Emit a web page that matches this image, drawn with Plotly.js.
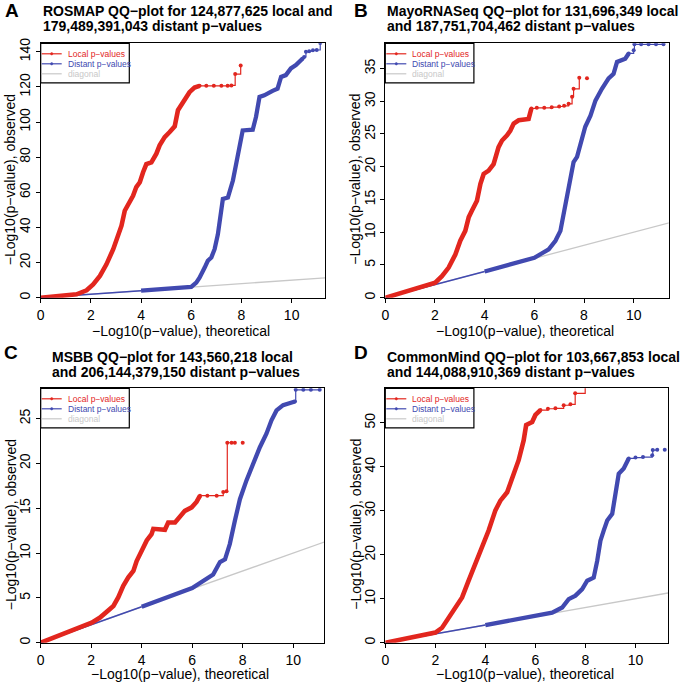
<!DOCTYPE html>
<html><head><meta charset="utf-8">
<script src="https://cdn.plot.ly/plotly-3.0.1.min.js"></script>
<style>html,body{margin:0;padding:0;background:#fff}#chart{width:685px;height:683px}</style>
</head><body><div id="chart"></div>
<script>
// ---------- DATA ----------
const diagX = [0, 12];
const diagY = [0, 12];

// A: ROSMAP
const rosmapLocalX = [0, 0.5, 1.0, 1.43, 1.83, 2.09, 2.36, 2.62, 2.89, 3.09, 3.22, 3.35, 3.48, 3.68, 3.81, 3.95, 4.08, 4.21, 4.41, 4.61, 4.74, 4.94, 5.14, 5.34, 5.47, 5.6, 5.74, 5.93, 6.13, 6.33];
const rosmapLocalY = [0, 0.6, 1.2, 1.9, 4.2, 7.6, 12.4, 19, 27.6, 36, 41, 49.5, 52.4, 58, 63, 65.7, 71.4, 76, 77, 82, 86.7, 91.4, 94.3, 97.5, 106.7, 109.5, 113.3, 117, 119.6, 120.6];
const rosmapLocalTailX = [6.33, 6.6, 6.9, 7.2, 7.45, 7.6, 7.75, 7.97];
const rosmapLocalTailY = [120.6, 120.6, 120.6, 120.6, 120.6, 120.8, 127.3, 132.2];
const rosmapLocalExtraX = [];
const rosmapLocalExtraY = [];
const rosmapDistantLowX = [0, 4];
const rosmapDistantLowY = [0, 4];
const rosmapDistantX = [4, 5, 6, 6.2, 6.33, 6.53, 6.66, 6.8, 6.93, 7.06, 7.13, 7.19, 7.26, 7.46, 7.52, 7.66, 7.79, 7.92, 8.05, 8.45, 8.58, 8.72, 8.91, 9.24, 9.44, 9.58, 9.77, 9.97, 10.17, 10.44];
const rosmapDistantY = [4, 5, 6.1, 8.6, 11.4, 17, 21, 22.9, 27.6, 36, 43.8, 51.4, 56.2, 57, 60, 66.7, 76.2, 85.7, 95.2, 95.6, 102.9, 114.3, 115.2, 117.7, 119, 125.7, 126.7, 130.5, 132.4, 136.2];
const rosmapDistantTailX = [10.44, 10.5, 10.57, 10.7, 10.85, 11.0, 11.14];
const rosmapDistantTailY = [136.2, 137, 140, 140.3, 140.8, 141, 145];
const rosmapDistantExtraX = [];
const rosmapDistantExtraY = [];

// B: MayoRNASeq
const mayoLocalX = [0, 1, 2.01, 2.28, 2.55, 2.82, 3.02, 3.22, 3.36, 3.49, 3.69, 3.83, 3.96, 4.16, 4.36, 4.56, 4.7, 4.9, 5.03, 5.17, 5.37, 5.77, 5.88];
const mayoLocalY = [0, 1.1, 2.3, 3.3, 4.6, 6.6, 8.7, 10.2, 12.3, 13.3, 14.8, 17.4, 18.9, 19.4, 20.4, 23, 24, 24.8, 25.5, 26.6, 27.1, 27.3, 28.9];
const mayoLocalTailX = [5.88, 6.1, 6.4, 6.7, 7.0, 7.2, 7.38, 7.52, 7.58, 7.81];
const mayoLocalTailY = [28.9, 29.0, 29.0, 29.1, 29.2, 29.3, 29.6, 30.7, 31.9, 33.6];
const mayoLocalExtraX = [8.12];
const mayoLocalExtraY = [33.5];
const mayoDistantLowX = [0, 4];
const mayoDistantLowY = [0, 4];
const mayoDistantX = [4, 5, 6, 6.58, 6.85, 7.05, 7.18, 7.32, 7.45, 7.58, 7.72, 7.85, 8.05, 8.26, 8.46, 8.72, 8.99, 9.19, 9.33, 9.66, 9.8];
const mayoDistantY = [4, 5, 6.1, 7.4, 8.7, 10.2, 12.8, 15.8, 18.4, 20.7, 21.5, 23.5, 26.1, 27.8, 30.1, 31.9, 33.5, 34.2, 36, 36.5, 37.3];
const mayoDistantTailX = [9.8, 10.0, 10.03, 10.3, 10.6, 10.9, 11.2];
const mayoDistantTailY = [37.3, 37.8, 38.7, 38.7, 38.7, 38.7, 38.7];
const mayoDistantExtraX = [];
const mayoDistantExtraY = [];

// C: MSBB
const msbbLocalX = [0, 1, 2.02, 2.35, 2.61, 2.88, 3.07, 3.27, 3.47, 3.67, 3.8, 3.93, 4.06, 4.2, 4.39, 4.46, 4.92, 5.05, 5.32, 5.51, 5.71, 5.98, 6.17, 6.31];
const msbbLocalY = [0, 1.1, 2.24, 2.8, 3.36, 4.1, 5.04, 6.34, 7.28, 8.0, 9.1, 9.9, 10.8, 11.4, 12.1, 12.7, 12.6, 13.4, 13.4, 14.0, 14.7, 15.1, 15.7, 16.4];
const msbbLocalTailX = [6.31, 6.6, 6.97, 7.23, 7.36, 7.39, 7.56, 7.69];
const msbbLocalTailY = [16.4, 16.4, 16.4, 16.8, 16.9, 22.3, 22.3, 22.3];
const msbbLocalExtraX = [8.0];
const msbbLocalExtraY = [22.3];
const msbbDistantLowX = [0, 4];
const msbbDistantLowY = [0, 4];
const msbbDistantX = [4, 5, 6, 6.83, 7.1, 7.3, 7.49, 7.69, 7.89, 8.15, 8.42, 8.68, 8.94, 9.14, 9.34, 9.6, 10.07];
const msbbDistantY = [4, 5, 6.1, 7.6, 9.0, 9.3, 11.0, 13.6, 16.0, 18.1, 20.0, 21.8, 23.3, 24.8, 25.9, 26.5, 26.9];
const msbbDistantTailX = [10.07, 10.1, 10.4, 10.7, 11.05];
const msbbDistantTailY = [26.9, 28.2, 28.2, 28.2, 28.2];
const msbbDistantExtraX = [];
const msbbDistantExtraY = [];

// D: CommonMind
const cmcLocalX = [0, 1, 2.0, 2.27, 2.53, 2.8, 3.07, 3.33, 3.6, 3.87, 4.13, 4.4, 4.6, 4.87, 5.07, 5.33, 5.53, 5.63, 5.87, 6.0, 6.2];
const cmcLocalY = [0, 1.1, 2.3, 3.4, 5.7, 8.0, 10.3, 14.1, 17.9, 21.3, 25.5, 30.1, 32.3, 34.2, 37.7, 41.5, 46, 49.5, 50.2, 51.8, 52.9];
const cmcLocalTailX = [6.2, 6.5, 6.8, 7.13, 7.4, 7.59, 7.99];
const cmcLocalTailY = [52.9, 53.2, 53.3, 54.0, 54.2, 56.7, 58.5];
const cmcLocalExtraX = [];
const cmcLocalExtraY = [];
const cmcDistantLowX = [0, 4];
const cmcDistantLowY = [0, 4];
const cmcDistantX = [4, 5, 6, 6.67, 7.07, 7.33, 7.6, 7.87, 8.07, 8.33, 8.47, 8.6, 8.73, 8.87, 9.07, 9.2, 9.33, 9.53, 9.73];
const cmcDistantY = [4, 5, 6.1, 6.85, 8.0, 9.9, 10.7, 12.2, 14.1, 14.8, 18.6, 23.2, 25.5, 27.8, 29.3, 33.9, 38.4, 39.6, 41.9];
const cmcDistantTailX = [9.73, 10.0, 10.3, 10.67, 10.69, 10.87];
const cmcDistantTailY = [41.9, 42.1, 42.2, 42.6, 43.8, 43.9];
const cmcDistantExtraX = [11.17];
const cmcDistantExtraY = [43.9];

const legendLabels = ['Local p\u2212values', 'Distant p\u2212values', 'diagonal'];

// ---------- STYLE / LAYOUT ----------
const RED = '#E2261E', BLUE = '#4149B0', GRAY = '#C8C8C8';
const FONT = 'Liberation Sans, Arial, Helvetica, sans-serif';
const W = 685, H = 683;
const px = v => v / W, py = v => 1 - v / H;

const panels = [
  {ax: '', letter: 'A', lx: 11.5, ly: 11, t1: 'ROSMAP QQ\u2212plot for 124,877,625 local and', t2: '179,489,391,043 distant p\u2212values', tx: 41, ty: 10.5,
   box: [40.7, 43.3, 325, 297.7], xmax: 11.33, ymax: 144.8, dtick: 20, xtOff: 33,
   local: [rosmapLocalX, rosmapLocalY, rosmapLocalTailX, rosmapLocalTailY, rosmapLocalExtraX, rosmapLocalExtraY],
   distant: [rosmapDistantLowX, rosmapDistantLowY, rosmapDistantX, rosmapDistantY, rosmapDistantTailX, rosmapDistantTailY, rosmapDistantExtraX, rosmapDistantExtraY]},
  {ax: '2', letter: 'B', lx: 361, ly: 11, t1: 'MayoRNASeq QQ\u2212plot for 131,696,349 local', t2: 'and 187,751,704,462 distant p\u2212values', tx: 385.3, ty: 10.5,
   box: [385.3, 43.3, 668.7, 297.7], xmax: 11.41, ymax: 38.85, dtick: 5, xtOff: 33,
   local: [mayoLocalX, mayoLocalY, mayoLocalTailX, mayoLocalTailY, mayoLocalExtraX, mayoLocalExtraY],
   distant: [mayoDistantLowX, mayoDistantLowY, mayoDistantX, mayoDistantY, mayoDistantTailX, mayoDistantTailY, mayoDistantExtraX, mayoDistantExtraY]},
  {ax: '3', letter: 'C', lx: 10.5, ly: 352, t1: 'MSBB QQ\u2212plot for 143,560,218 local', t2: 'and 206,144,379,150 distant p\u2212values', tx: 50, ty: 356.5,
   box: [40.7, 388.3, 324, 642.7], xmax: 11.22, ymax: 28.37, dtick: 5, xtOff: 31.5,
   local: [msbbLocalX, msbbLocalY, msbbLocalTailX, msbbLocalTailY, msbbLocalExtraX, msbbLocalExtraY],
   distant: [msbbDistantLowX, msbbDistantLowY, msbbDistantX, msbbDistantY, msbbDistantTailX, msbbDistantTailY, msbbDistantExtraX, msbbDistantExtraY]},
  {ax: '4', letter: 'D', lx: 361, ly: 352, t1: 'CommonMind QQ\u2212plot for 103,667,853 local', t2: 'and 144,088,910,369 distant p\u2212values', tx: 385.3, ty: 356.5,
   box: [385.3, 388.3, 668, 642.7], xmax: 11.3, ymax: 57.85, dtick: 10, xtOff: 31.5,
   local: [cmcLocalX, cmcLocalY, cmcLocalTailX, cmcLocalTailY, cmcLocalExtraX, cmcLocalExtraY],
   distant: [cmcDistantLowX, cmcDistantLowY, cmcDistantX, cmcDistantY, cmcDistantTailX, cmcDistantTailY, cmcDistantExtraX, cmcDistantExtraY]}
];

const traces = [];
const layout = {
  width: W, height: H, margin: {l: 0, r: 0, t: 0, b: 0},
  paper_bgcolor: '#fff', plot_bgcolor: '#fff', showlegend: false,
  font: {family: FONT, color: '#000'},
  annotations: [], shapes: []
};

panels.forEach(p => {
  const xa = 'x' + p.ax, ya = 'y' + p.ax;
  const base = {xaxis: xa, yaxis: ya, hoverinfo: 'skip', showlegend: false};
  traces.push(Object.assign({}, base, {x: diagX, y: diagY, mode: 'lines', line: {color: GRAY, width: 1.3}}));
  const [dlx, dly, dx, dy, dtx, dty, dex, dey] = p.distant;
  traces.push(Object.assign({}, base, {x: dlx, y: dly, mode: 'lines', line: {color: BLUE, width: 1.5}}));
  traces.push(Object.assign({}, base, {x: dx, y: dy, mode: 'lines', line: {color: BLUE, width: 4.3}}));
  traces.push(Object.assign({}, base, {x: dtx, y: dty, mode: 'lines+markers', line: {color: BLUE, width: 1.2, shape: 'hv'}, marker: {color: BLUE, size: 4}}));
  if (dex.length) traces.push(Object.assign({}, base, {x: dex, y: dey, mode: 'markers', marker: {color: BLUE, size: 4}}));
  const [lx, ly, ltx, lty, lex, ley] = p.local;
  traces.push(Object.assign({}, base, {x: lx, y: ly, mode: 'lines', line: {color: RED, width: 4.6}}));
  traces.push(Object.assign({}, base, {x: ltx, y: lty, mode: 'lines+markers', line: {color: RED, width: 1.2, shape: 'hv'}, marker: {color: RED, size: 4}}));
  if (lex.length) traces.push(Object.assign({}, base, {x: lex, y: ley, mode: 'markers', marker: {color: RED, size: 4}}));

  const [L, T, R, B] = p.box;
  const axCommon = {showgrid: false, zeroline: false, showline: true, linecolor: '#000', linewidth: 1, mirror: true,
    ticks: 'outside', ticklen: 4, tickwidth: 1, tickcolor: '#000', tickfont: {size: 14, family: FONT, color: '#000'}};
  layout['xaxis' + p.ax] = Object.assign({}, axCommon, {domain: [px(L), px(R)], anchor: ya, range: [0, p.xmax], dtick: 2, tick0: 0});
  layout['yaxis' + p.ax] = Object.assign({}, axCommon, {domain: [py(B), py(T)], anchor: xa, range: [0, p.ymax], dtick: p.dtick, tick0: 0, tickangle: -90});

  // panel letter and titles
  layout.annotations.push({xref: 'paper', yref: 'paper', x: px(p.lx), y: py(p.ly), xanchor: 'center', yanchor: 'middle', showarrow: false,
    text: '<b>' + p.letter + '</b>', font: {size: 19, family: FONT, color: '#000'}});
  layout.annotations.push({xref: 'paper', yref: 'paper', x: px(p.tx), y: py(p.ty), xanchor: 'left', yanchor: 'middle', showarrow: false,
    text: '<b>' + p.t1 + '</b>', font: {size: 14, family: FONT, color: '#000'}});
  layout.annotations.push({xref: 'paper', yref: 'paper', x: px(p.tx), y: py(p.ty + 15.5), xanchor: 'left', yanchor: 'middle', showarrow: false,
    text: '<b>' + p.t2 + '</b>', font: {size: 14, family: FONT, color: '#000'}});
  // axis titles
  layout.annotations.push({xref: 'paper', yref: 'paper', x: px((L + R) / 2 - 2), y: py(B + p.xtOff), xanchor: 'center', yanchor: 'middle', showarrow: false,
    text: '\u2212Log10(p\u2212value), theoretical', font: {size: 14, family: FONT, color: '#000'}});
  layout.annotations.push({xref: 'paper', yref: 'paper', x: px(L - 30), y: py((T + B) / 2 + 9), xanchor: 'center', yanchor: 'middle', showarrow: false, textangle: -90,
    text: '\u2212Log10(p\u2212value), observed', font: {size: 14, family: FONT, color: '#000'}});

  // legend box
  layout.shapes.push({type: 'rect', xref: 'paper', yref: 'paper', x0: px(L), x1: px(L + 88.6), y0: py(T), y1: py(T + 39.5),
    line: {color: '#000', width: 1.2}, fillcolor: 'rgba(255,255,255,1)', layer: 'above'});
  const cols = [RED, BLUE, GRAY];
  cols.forEach((c, i) => {
    const yy = T + 10.5 + 10 * i;
    layout.shapes.push({type: 'line', xref: 'paper', yref: 'paper', x0: px(L + 1), x1: px(L + 21), y0: py(yy), y1: py(yy),
      line: {color: c, width: 1.2}, layer: 'above'});
    if (i < 2) layout.shapes.push({type: 'circle', xref: 'paper', yref: 'paper', x0: px(L + 9.8), x1: px(L + 12.2), y0: py(yy - 1.2), y1: py(yy + 1.2),
      line: {color: c, width: 0.5}, fillcolor: c, layer: 'above'});
    layout.annotations.push({xref: 'paper', yref: 'paper', x: px(L + 25), y: py(yy), xanchor: 'left', yanchor: 'middle', showarrow: false,
      text: legendLabels[i], font: {size: 8.5, family: FONT, color: c}});
  });
});

Plotly.newPlot('chart', traces, layout, {displayModeBar: false, staticPlot: true});
</script>
</body></html>
